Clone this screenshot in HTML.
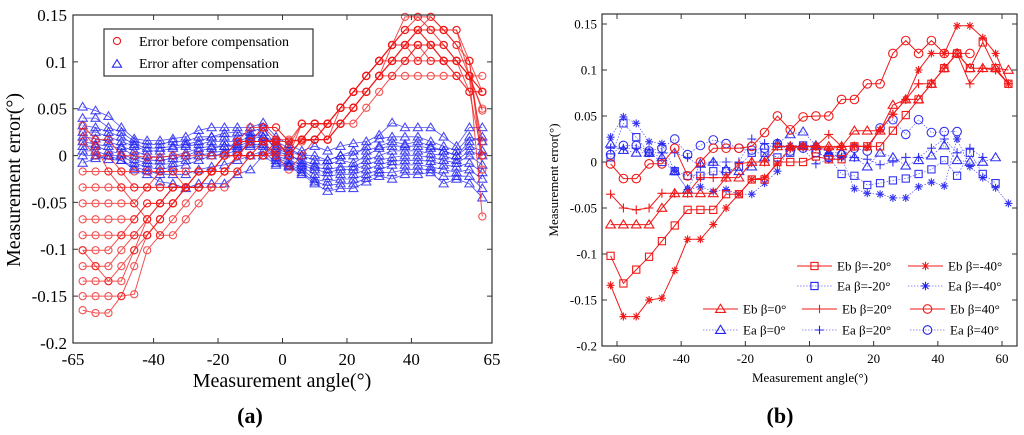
<!DOCTYPE html>
<html><head><meta charset="utf-8"><style>
body{margin:0;background:#fff}
svg{display:block;font-family:"Liberation Serif",serif}
</style></head><body>
<svg id="chart" width="1024" height="435" viewBox="0 0 1024 435">
<g id="pa"></g>
<g id="pb"></g>
</svg>
<script>
const angles=[-62,-58,-54,-50,-46,-42,-38,-34,-30,-26,-22,-18,-14,-10,-6,-2,2,6,10,14,18,22,26,30,34,38,42,46,50,54,58,62];
// Panel a: before compensation (red)
const a1=[0.032,0.017,0.017,0,0,-0.002,-0.002,0,0,0,0,0,0.015,0.015,0.015,0.017,0.017,0.015,0.017,0.017,0.034,0.034,0.051,0.068,0.085,0.085,0.085,0.085,0.085,0.085,0.085,0.068];
const a2=[0.015,0,0,-0.017,-0.017,-0.017,-0.017,-0.017,-0.017,-0.017,-0.017,-0.017,0,0.015,0.030,0.030,0.015,0.017,0.034,0.034,0.034,0.051,0.068,0.085,0.101,0.101,0.101,0.101,0.101,0.101,0.085,0.068];
const a3=[-0.034,-0.034,-0.034,-0.034,-0.034,-0.034,-0.034,-0.034,-0.034,-0.017,-0.017,0,0.015,0.030,0.030,0.017,0.0,0.034,0.034,0.034,0.051,0.068,0.085,0.101,0.101,0.118,0.118,0.118,0.118,0.101,0.085,0.068];
const a4=[-0.051,-0.051,-0.051,-0.051,-0.051,-0.034,-0.034,-0.034,-0.034,-0.017,-0.017,0,0,0.015,0.015,0.015,0.0,0.017,0.017,0.034,0.034,0.051,0.068,0.085,0.101,0.101,0.118,0.118,0.118,0.101,0.101,0.0];
const a5=[-0.068,-0.068,-0.068,-0.068,-0.068,-0.051,-0.051,-0.034,-0.034,-0.034,-0.017,-0.017,0,0,0,0.015,0.0,0.017,0.017,0.017,0.034,0.051,0.068,0.085,0.101,0.118,0.134,0.134,0.134,0.118,0.101,-0.015];
const a6=[-0.085,-0.085,-0.085,-0.085,-0.085,-0.085,-0.068,-0.051,-0.034,-0.034,-0.017,-0.017,0,0,0,0,0.0,0.017,0.017,0.017,0.034,0.051,0.068,0.085,0.101,0.118,0.134,0.134,0.134,0.134,0.101,0.068];
const a7=[-0.101,-0.101,-0.101,-0.085,-0.068,-0.051,-0.051,-0.034,-0.034,-0.017,-0.017,0,0,0,0.015,0.015,0.0,0.017,0.034,0.034,0.051,0.068,0.085,0.101,0.118,0.118,0.118,0.101,0.101,0.101,0.068,0.0];
const a8=[-0.118,-0.118,-0.118,-0.101,-0.085,-0.068,-0.051,-0.034,-0.034,-0.017,-0.017,0,0,0.015,0.015,0,-0.015,0,0.017,0.034,0.051,0.068,0.085,0.101,0.118,0.134,0.148,0.134,0.118,0.101,0.085,0.048];
const a9=[-0.134,-0.134,-0.134,-0.118,-0.101,-0.085,-0.068,-0.051,-0.034,-0.034,-0.017,-0.017,0,0,0.015,0.015,0.0,0.017,0.017,0.034,0.051,0.068,0.085,0.101,0.118,0.134,0.134,0.118,0.101,0.085,0.068,0.068];
const a10=[-0.150,-0.150,-0.150,-0.150,-0.148,-0.101,-0.085,-0.068,-0.051,-0.034,-0.017,-0.017,0,0.015,0.015,0.015,0.0,0.017,0.034,0.034,0.051,0.068,0.085,0.101,0.118,0.148,0.148,0.148,0.134,0.118,0.085,-0.065];
const a11=[-0.165,-0.168,-0.168,-0.150,-0.118,-0.085,-0.068,-0.051,-0.034,-0.017,-0.017,0,0,0.015,0.015,0.015,0.0,0.017,0.017,0.034,0.051,0.068,0.085,0.101,0.118,0.134,0.134,0.118,0.101,0.101,0.085,0.085];
const a12=[-0.017,-0.017,-0.017,-0.017,-0.034,-0.034,-0.017,-0.017,-0.034,-0.034,-0.017,0,0.015,0.015,0.030,0.030,0.015,0.034,0.034,0.017,0.051,0.068,0.068,0.085,0.085,0.101,0.118,0.118,0.101,0.085,0.068,0.068];
const a13=[-0.101,-0.118,-0.134,-0.134,-0.101,-0.068,-0.051,-0.051,-0.034,-0.034,-0.034,-0.017,-0.017,0,0,0.015,0.015,0.017,0.017,0.017,0.034,0.051,0.068,0.085,0.118,0.118,0.101,0.118,0.101,0.101,0.085,0.015];
const a14=[0.025,0.010,-0.017,-0.034,-0.051,-0.068,-0.085,-0.085,-0.068,-0.051,-0.034,-0.034,-0.017,0,0,0.005,0.010,0.034,0.034,0.034,0.051,0.051,0.068,0.085,0.101,0.118,0.134,0.148,0.134,0.134,0.085,0.050];
// Panel a: after compensation (blue)
const b1=[0.052,0.048,0.042,0.030,0.018,0.016,0.016,0.018,0.020,0.027,0.030,0.030,0.030,0.030,0.035,0.020,0.012,0.005,0.010,0.005,0.010,0.013,0.015,0.022,0.035,0.030,0.030,0.030,0.020,0.010,0.030,0.030];
const b2=[0.040,0.040,0.030,0.025,0.015,0.012,0.012,0.015,0.015,0.020,0.020,0.020,0.020,0.025,0.030,0.010,0.005,0.0,-0.005,-0.005,0.0,0.0,0.010,0.018,0.020,0.020,0.020,0.015,0.010,0.005,0.020,0.015];
const b3=[0.025,0.025,0.020,0.015,0.010,0.005,0.005,0.008,0.010,0.012,0.015,0.015,0.015,0.020,0.025,0.005,0.0,-0.005,-0.010,-0.010,-0.005,-0.008,0.0,0.008,0.010,0.010,0.010,0.008,0.005,0.0,0.010,0.005];
const b4=[0.015,0.012,0.010,0.008,0.0,-0.005,-0.005,-0.003,0.0,0.005,0.008,0.010,0.010,0.015,0.015,0.0,-0.005,-0.010,-0.015,-0.018,-0.015,-0.015,-0.010,-0.005,-0.002,0.0,0.0,-0.002,-0.005,-0.008,0.0,-0.010];
const b5=[0.005,0.005,0.0,0.0,-0.008,-0.012,-0.015,-0.012,-0.010,-0.005,0.0,0.002,0.005,0.010,0.010,-0.005,-0.010,-0.015,-0.025,-0.028,-0.025,-0.025,-0.020,-0.015,-0.010,-0.010,-0.010,-0.012,-0.015,-0.018,-0.015,-0.025];
const b6=[-0.008,-0.003,0.0,-0.005,-0.015,-0.020,-0.028,-0.030,-0.035,-0.030,-0.030,-0.030,-0.020,-0.015,0.000,-0.010,-0.012,-0.020,-0.030,-0.038,-0.035,-0.035,-0.028,-0.022,-0.025,-0.020,-0.020,-0.018,-0.030,-0.025,-0.030,-0.045];
const b7=[0.032,0.030,0.025,0.020,0.012,0.008,0.008,0.010,0.012,0.015,0.020,0.024,0.025,0.022,0.020,0.015,0.008,0.0,0.0,-0.005,0.0,0.005,0.005,0.010,0.015,0.012,0.015,0.010,0.005,0.0,0.015,0.020];
const b8=[0.020,0.018,0.015,0.010,0.005,0.0,-0.002,0.0,0.003,0.008,0.010,0.010,0.012,0.018,0.020,0.008,0.002,-0.008,-0.012,-0.015,-0.012,-0.012,-0.005,0.0,0.005,0.005,0.005,0.002,0.0,-0.005,0.005,0.0];
const b9=[0.010,0.010,0.005,0.002,-0.004,-0.008,-0.010,-0.008,-0.005,0.0,0.003,0.005,0.008,0.012,0.012,-0.002,-0.008,-0.012,-0.020,-0.022,-0.020,-0.020,-0.015,-0.010,-0.006,-0.005,-0.005,-0.006,-0.010,-0.012,-0.008,-0.018];
const b10=[0.000,0.000,-0.004,-0.005,-0.012,-0.016,-0.020,-0.020,-0.020,-0.015,-0.012,-0.010,-0.005,0.0,0.005,-0.008,-0.011,-0.018,-0.028,-0.032,-0.030,-0.030,-0.024,-0.018,-0.018,-0.015,-0.015,-0.015,-0.022,-0.022,-0.022,-0.035];
// Panel b
const ebN20=[-0.102,-0.132,-0.117,-0.103,-0.086,-0.069,-0.052,-0.052,-0.052,-0.035,-0.035,-0.019,-0.019,0,0,0,0.006,0.003,0.003,0.017,0.017,0.017,0.034,0.051,0.068,0.085,0.102,0.118,0.102,0.130,0.102,0.085];
const ebN40=[-0.134,-0.168,-0.168,-0.150,-0.148,-0.118,-0.084,-0.084,-0.068,-0.050,-0.035,-0.019,-0.017,-0.002,0.015,0.017,0.016,0.015,0.016,0.018,0.016,0.035,0.052,0.068,0.100,0.118,0.118,0.148,0.148,0.135,0.118,0.085];
const eb0=[-0.068,-0.068,-0.068,-0.068,-0.050,-0.034,-0.034,-0.034,-0.034,-0.017,-0.017,0,0,0.017,0.017,0.017,0.017,0.017,0.017,0.034,0.034,0.034,0.062,0.068,0.068,0.085,0.102,0.118,0.102,0.102,0.102,0.100];
const eb20=[-0.035,-0.050,-0.052,-0.050,-0.034,-0.034,-0.034,-0.017,-0.017,-0.017,-0.002,0,0,0.017,0.017,0.017,0.017,0.030,0.017,0.017,0.017,0.035,0.052,0.068,0.085,0.085,0.102,0.118,0.085,0.102,0.100,0.085];
const eb40=[-0.002,-0.018,-0.018,-0.002,-0.002,0.015,-0.015,0,0.015,0.015,0.015,0.017,0.032,0.050,0.035,0.049,0.050,0.050,0.068,0.068,0.085,0.085,0.118,0.132,0.118,0.132,0.118,0.118,0.118,null,null,null];
const eaN20=[0.005,0.042,0.027,0.010,0,-0.010,-0.015,-0.015,-0.010,-0.010,-0.005,0.010,0.010,0.005,0.010,0.018,0.010,0.005,-0.013,-0.015,-0.025,-0.023,-0.020,-0.018,-0.013,-0.008,0.002,-0.015,0.010,-0.013,-0.023,null];
const eaN40=[0.027,0.049,0.042,0.022,0.020,-0.010,-0.030,-0.027,-0.032,-0.030,-0.035,-0.035,-0.023,-0.010,0.018,0.018,0.018,0.010,0.005,-0.029,-0.034,-0.035,-0.039,-0.039,-0.027,-0.022,-0.026,0.025,-0.005,-0.017,-0.028,-0.045];
const ea0=[0.020,0.013,0.010,0.010,0.005,-0.010,-0.030,-0.002,0,-0.008,-0.010,-0.005,0.005,0.020,0.030,0.033,0.018,0.010,0.010,0.005,-0.005,0.010,0.005,-0.004,0.002,0.007,0.018,0.002,0.0,0.0,0.005,null];
const ea20=[0.015,0.015,0.015,0.010,0.010,0.010,0.005,-0.005,0.0,0.0,0.0,0.025,0.020,0.020,0.015,0.015,-0.002,0.003,0.005,0.005,0.003,-0.003,0.0,0.005,0.005,0.015,0.025,0.010,0.015,0.005,null,null];
const ea40=[0.008,0.018,0.018,0.012,0.015,0.025,0.008,0.018,0.024,0.020,0.015,0.013,0.015,0.020,0.012,0.015,0.010,0.005,0.008,0.015,0.012,0.037,0.046,0.030,0.046,0.032,0.033,0.033,null,null,null,null];
const aXTicks=[-65,-40,-20,0,20,40,65];
const yTicks=[0.15,0.1,0.05,0,-0.05,-0.1,-0.15,-0.2];
const yTickLabels=["0.15","0.1","0.05","0","-0.05","-0.1","-0.15","-0.2"];
const bXTicks=[-60,-40,-20,0,20,40,60];

const NS="http://www.w3.org/2000/svg";
function mk(parent,tag,attrs,text){const e=document.createElementNS(NS,tag);for(const k in attrs)e.setAttribute(k,attrs[k]);if(text!==undefined)e.textContent=text;parent.appendChild(e);return e;}
function marker(g,type,x,y,s,color,sw){
  let e;
  if(type==='o')e=mk(g,'circle',{cx:x,cy:y,r:s,fill:'none',stroke:color,'stroke-width':sw});
  else if(type==='s')e=mk(g,'rect',{x:x-s,y:y-s,width:2*s,height:2*s,fill:'none',stroke:color,'stroke-width':sw});
  else if(type==='^')e=mk(g,'polygon',{points:`${x},${y-s*1.1} ${x-s*1.15},${y+s*0.8} ${x+s*1.15},${y+s*0.8}`,fill:'none',stroke:color,'stroke-width':sw});
  else if(type==='+')e=mk(g,'path',{d:`M${x-s} ${y}H${x+s}M${x} ${y-s}V${y+s}`,stroke:color,'stroke-width':sw});
  else if(type==='*')e=mk(g,'path',{d:`M${x-s} ${y}H${x+s}M${x} ${y-s}V${y+s}M${x-s*.7} ${y-s*.7}L${x+s*.7} ${y+s*.7}M${x-s*.7} ${y+s*.7}L${x+s*.7} ${y-s*.7}`,stroke:color,'stroke-width':sw});
  return e;
}
function series(g,xs,ys,X,Y,color,mtype,ms,lw,dash,op,name){
  const sg=mk(g,'g',{opacity:op});
  
  
  let d='';let pen=false;
  ys.forEach((v,i)=>{if(v===null){pen=false;return;}d+=(pen?'L':'M')+X(xs[i]).toFixed(1)+' '+Y(v).toFixed(1);pen=true;});
  const l=mk(sg,'path',{d:d,fill:'none',stroke:color,'stroke-width':lw});
  if(dash)l.setAttribute('stroke-dasharray',dash);
  ys.forEach((v,i)=>{if(v!==null)marker(sg,mtype,X(xs[i]),Y(v),ms,color,1.1);});
}
function axes(g,L,R,T,B,X,Y,xt,fs,xoff,yoff){
  mk(g,'rect',{x:L,y:T,width:R-L,height:B-T,fill:'none',stroke:'#333','stroke-width':1.2});
  xt.forEach(v=>{const x=X(v);mk(g,'path',{d:`M${x} ${B}V${B-5}M${x} ${T}V${T+5}`,stroke:'#333'});
    const t=mk(g,'text',{x:x,y:B+xoff,'font-size':fs,'text-anchor':'middle'},String(v));
    });
  yTicks.forEach((v,i)=>{const y=Y(v);mk(g,'path',{d:`M${L} ${y}H${L+5}M${R} ${y}H${R-5}`,stroke:'#333'});
    const t=mk(g,'text',{x:L-yoff,y:y+fs*0.35,'font-size':fs,'text-anchor':'end'},yTickLabels[i]);
    });
}
// Panel a
(function(){
  const g=document.getElementById('pa');
  const L=73,R=492,T=15,B=343;
  const X=v=>L+(v+65)/130*(R-L);
  const Y=v=>T+(0.15-v)/0.35*(B-T);
  const reds=[a1,a2,a3,a4,a5,a6,a7,a8,a9,a10,a11,a12,a13,a14];
  const blues=[b1,b2,b3,b4,b5,b6,b7,b8,b9,b10];
  blues.forEach((s,i)=>series(g,angles,s,X,Y,'#1f1ff0','^',4,0.8,null,0.8,'after-series-'+(i+1)));
  reds.forEach((s,i)=>series(g,angles,s,X,Y,'#f01818','o',3.6,1,null,0.75,'before-series-'+(i+1)));
  axes(g,L,R,T,B,X,Y,aXTicks,17,22,6);
  const lg=mk(g,'g',{});
  mk(lg,'rect',{x:104,y:29,width:209,height:47,fill:'#fff',stroke:'#333','stroke-width':1.2});
  marker(lg,'o',117,41,3.6,'#f01818',1.1);
  marker(lg,'^',117,64,4,'#2a2af0',1.1);
  mk(lg,'text',{x:139,y:46,'font-size':14},'Error before compensation');
  mk(lg,'text',{x:139,y:68,'font-size':14},'Error after compensation');
  const xl=mk(g,'text',{x:282,y:387,'font-size':20,'text-anchor':'middle'},'Measurement angle(°)');
  
  const yl=mk(g,'text',{x:0,y:0,'font-size':20,'text-anchor':'middle',transform:'translate(20,180) rotate(-90)'},'Measurement error(°)');
  
  const c=mk(g,'text',{x:250,y:423,'font-size':22,'text-anchor':'middle','font-weight':'bold'},'(a)');
  
})();
// Panel b
(function(){
  const g=document.getElementById('pb');
  const L=602,R=1017,T=14,B=346;
  const X=v=>617+(v+60)/120*(1002-617);
  const Y=v=>24+(0.15-v)/0.35*(346-24);
  const RED='#f01818',BLUE='#2020f0';
  const list=[[eaN20,BLUE,'s',3.6,'ea-beta-neg20'],[eaN40,BLUE,'*',4,'ea-beta-neg40'],[ea0,BLUE,'^',4.2,'ea-beta-0'],[ea20,BLUE,'+',4.5,'ea-beta-20'],[ea40,BLUE,'o',4.3,'ea-beta-40']];
  list.forEach(s=>series(g,angles,s[0],X,Y,s[1],s[2],s[3],0.6,'1.5 1.5',0.9,s[4]));
  const reds=[[ebN20,'s',3.6,'eb-beta-neg20'],[ebN40,'*',4,'eb-beta-neg40'],[eb0,'^',4.2,'eb-beta-0'],[eb20,'+',4.5,'eb-beta-20'],[eb40,'o',4.3,'eb-beta-40']];
  reds.forEach(s=>series(g,angles,s[0],X,Y,RED,s[1],s[2],1,null,1,s[3]));
  axes(g,L,R,T,B,X,Y,bXTicks,13,17,5);
  const lg=mk(g,'g',{});
  const ents=[[797,266,'s',RED,'Eb β=-20°'],[908,266,'*',RED,'Eb β=-40°'],[797,286,'s',BLUE,'Ea β=-20°'],[908,286,'*',BLUE,'Ea β=-40°'],
   [703,309,'^',RED,'Eb β=0°'],[802,309,'+',RED,'Eb β=20°'],[910,309,'o',RED,'Eb β=40°'],
   [703,330,'^',BLUE,'Ea β=0°'],[802,330,'+',BLUE,'Ea β=20°'],[910,330,'o',BLUE,'Ea β=40°']];
  ents.forEach(e=>{const[x,y,m,c,t]=e;
    const l=mk(lg,'path',{d:`M${x} ${y}H${x+35}`,stroke:c,'stroke-width':c===RED?1:0.6});
    if(c===BLUE)l.setAttribute('stroke-dasharray','1.5 1.5');
    marker(lg,m,x+17.5,y,m==='s'?3.6:4.3,c,1.1);
    mk(lg,'text',{x:x+40,y:y+4.5,'font-size':13},t);});
  const xl=mk(g,'text',{x:810,y:382,'font-size':13,'text-anchor':'middle'},'Measurement angle(°)');
  
  const yl=mk(g,'text',{x:0,y:0,'font-size':13,'text-anchor':'middle',transform:'translate(558,180) rotate(-90)'},'Measurement error(°)');
  
  const c=mk(g,'text',{x:780,y:423,'font-size':22,'text-anchor':'middle','font-weight':'bold'},'(b)');
  
})();
</script>
</body></html>
